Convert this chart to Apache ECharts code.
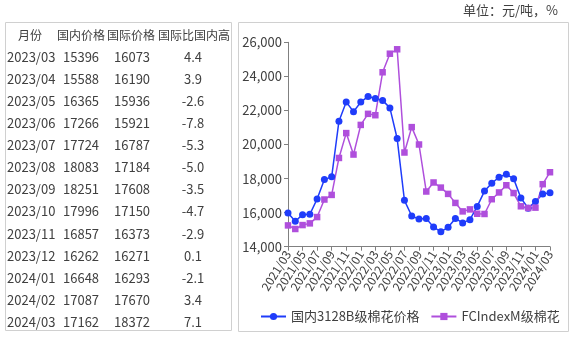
<!DOCTYPE html>
<html><head><meta charset="utf-8">
<script src="https://cdn.jsdelivr.net/npm/echarts@6/dist/echarts.min.js"></script>
<style>html,body{margin:0;padding:0;background:#fff}#c{width:573px;height:337px}</style>
</head><body><div id="c"></div>
<script>
const months = ['2021/03','2021/04','2021/05','2021/06','2021/07','2021/08','2021/09','2021/10','2021/11','2021/12',
'2022/01','2022/02','2022/03','2022/04','2022/05','2022/06','2022/07','2022/08','2022/09','2022/10','2022/11','2022/12',
'2023/01','2023/02','2023/03','2023/04','2023/05','2023/06','2023/07','2023/08','2023/09','2023/10','2023/11','2023/12',
'2024/01','2024/02','2024/03'];
const domestic = [15980,15490,15880,15900,16800,17940,18100,21370,22500,21920,22490,22820,
22700,22590,22150,20350,16720,15800,15620,15660,15150,14880,15140,15660,
15396,15588,16365,17266,17724,18083,18251,17996,16857,16262,16648,17087,17162];
const international = [15250,15040,15270,15370,15740,16770,17040,19210,20670,19410,21150,21800,
21720,24240,25330,25590,19530,21020,20000,17240,17770,17470,17100,16570,
16073,16190,15936,15921,16787,17184,17608,17150,16373,16271,16293,17670,18372];
const tableHeader = ['月份','国内价格','国际价格','国际比国内高'];
const tableMonths = ['2023/03','2023/04','2023/05','2023/06','2023/07','2023/08','2023/09','2023/10','2023/11','2023/12','2024/01','2024/02','2024/03'];
const tableDomestic = [15396,15588,16365,17266,17724,18083,18251,17996,16857,16262,16648,17087,17162];
const tableIntl = [16073,16190,15936,15921,16787,17184,17608,17150,16373,16271,16293,17670,18372];
const tableDiff = ['4.4','3.9','-2.6','-7.8','-5.3','-5.0','-3.5','-4.7','-2.9','0.1','-2.1','3.4','7.1'];
const seriesNames = ['国内3128B级棉花价格','FCIndexM级棉花'];
const unitText = '单位：元/吨，%';

const FONT = '"Noto Sans CJK SC", "Microsoft YaHei", sans-serif';
const TXT = '#404040';
const graphics = [
  {type:'rect', shape:{x:5.5,y:22.5,width:226,height:308}, style:{fill:'none',stroke:'#d0d0d0',lineWidth:1}, silent:true},
  {type:'rect', shape:{x:238.5,y:22.5,width:330,height:309}, style:{fill:'none',stroke:'#d0d0d0',lineWidth:1}, silent:true},
  {type:'text', right:15, top:4, style:{text:unitText, font:'13px '+FONT, fill:TXT}}
];
const headerX = [30,57,107,158];
const headerAlign = ['center','left','left','left'];
tableHeader.forEach((h,i)=>{
  graphics.push({type:'text', x:headerX[i], y:35, style:{text:h, font:'12px '+FONT, fill:TXT, textAlign:headerAlign[i], textVerticalAlign:'middle'}});
});
tableMonths.forEach((m,i)=>{
  const y = 57 + i*22.08;
  graphics.push({type:'text', x:7, y:y, style:{text:m, font:'13px '+FONT, fill:TXT, textVerticalAlign:'middle'}});
  graphics.push({type:'text', x:63, y:y, style:{text:String(tableDomestic[i]), font:'13px '+FONT, fill:TXT, textVerticalAlign:'middle'}});
  graphics.push({type:'text', x:114, y:y, style:{text:String(tableIntl[i]), font:'13px '+FONT, fill:TXT, textVerticalAlign:'middle'}});
  graphics.push({type:'text', x:193, y:y, style:{text:tableDiff[i], font:'13px '+FONT, fill:TXT, textAlign:'center', textVerticalAlign:'middle'}});
});

const chart = echarts.init(document.getElementById('c'), null, {renderer:'canvas'});
chart.setOption({
  animation:false,
  textStyle:{fontFamily:FONT},
  grid:{left:288, right:23, top:42.3, bottom:90.3, containLabel:false},
  xAxis:{type:'category', data:months, boundaryGap:false,
    axisLine:{lineStyle:{color:'#808080',width:1}},
    axisTick:{show:true, interval:1, length:4, lineStyle:{color:'#808080'}},
    axisLabel:{interval:1, rotate:58, fontSize:12, lineHeight:12, color:TXT, margin:5, fontFamily:FONT,
      hideOverlap:false}
  },
  yAxis:{type:'value', min:14000, max:26000, interval:2000,
    axisLine:{show:true, lineStyle:{color:'#808080',width:1}},
    axisTick:{show:true, length:4, lineStyle:{color:'#808080'}},
    splitLine:{show:false},
    axisLabel:{fontSize:13, color:TXT, margin:6, fontFamily:FONT,
      formatter:v=>String(v).replace(/\B(?=(\d{3})+(?!\d))/g, ',')}
  },
  legend:{left:255, top:305, itemWidth:25, itemHeight:9, itemGap:11,
    textStyle:{fontSize:13, color:TXT, fontFamily:FONT},
    data:seriesNames},
  series:[
    {name:seriesNames[0], type:'line', data:domestic, symbol:'circle', symbolSize:7, showAllSymbol:true,
      itemStyle:{color:'#1F3CFA'}, lineStyle:{color:'#1F3CFA', width:1.5}},
    {name:seriesNames[1], type:'line', data:international, symbol:'rect', symbolSize:6.5, showAllSymbol:true,
      itemStyle:{color:'#AF4FDC'}, lineStyle:{color:'#AF4FDC', width:1.5}}
  ],
  graphic:graphics
});
</script></body></html>
